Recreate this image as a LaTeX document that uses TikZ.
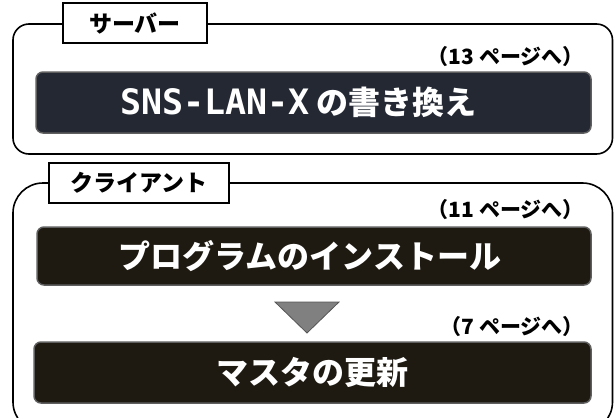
\documentclass[tikz,border=0pt]{standalone}
\usepackage{fontspec}
\setmainfont{Noto Sans CJK JP}
\newfontfamily\monofnt{DejaVu Sans Mono}
\definecolor{navybox}{RGB}{35,40,51}
\definecolor{blackbox}{RGB}{30,26,18}
\definecolor{boxedge}{RGB}{95,95,95}
\definecolor{trifill}{RGB}{128,128,128}
\definecolor{triedge}{RGB}{85,85,85}
\tikzset{
  outerbox/.style={draw=black, line width=1.6pt},
  labelbox/.style={draw=black, line width=1.5pt, fill=white, inner sep=0pt,
    font=\fontsize{23}{26}\selectfont\bfseries},
  darkbox/.style={draw=boxedge, line width=1.5pt, rounded corners=7pt, inner sep=0pt},
  boxtext/.style={text=white, inner sep=0pt, font=\fontsize{32}{36}\selectfont\bfseries},
  pagenote/.style={inner sep=0pt, anchor=east, font=\fontsize{21}{24}\selectfont\bfseries},
}
\begin{document}
\begin{tikzpicture}[x=1pt,y=-1pt]
\useasboundingbox (0,0) rectangle (614,418);
\clip (0,0) rectangle (614,418);
% outer group frames
\draw[outerbox, rounded corners=16pt] (13,24) rectangle (612.5,154);
\draw[outerbox, rounded corners=30pt] (13,183) rectangle (612.5,432);
% group labels
\node[labelbox, minimum width=144pt, minimum height=40pt] (srvlabel) at (135,23) {サーバー};
\node[labelbox, minimum width=180pt, minimum height=40pt] (clilabel) at (139,183) {クライアント};
% task boxes
\node[darkbox, fill=navybox, minimum width=555pt, minimum height=61pt] (srvtask) at (313.5,102.5) {};
\node[boxtext] (srvtext) at ([xshift=-15pt]srvtask.center) {{\monofnt\fontsize{35}{38}\selectfont SNS-LAN-X} の書き換え};
\node[darkbox, fill=blackbox, minimum width=554pt, minimum height=58pt] (progtask) at (314,256) {};
\node[boxtext] (progtext) at ([xshift=-4pt]progtask.center) {プログラムのインストール};
\node[darkbox, fill=blackbox, minimum width=557pt, minimum height=61pt] (mastask) at (312.5,372.5) {};
\node[boxtext] (mastext) at (mastask.center) {マスタの更新};
% page notes
\node[pagenote] (srvnote) at (584,57) {（13 ページへ）};
\node[pagenote] (prognote) at (584,210) {（11 ページへ）};
\node[pagenote] (masnote) at (584,327) {（7 ページへ）};
% arrow triangle between tasks
\coordinate (trileft) at (275,302);
\coordinate (triright) at (339,302);
\coordinate (tritip) at (307,333);
\draw[fill=trifill, draw=triedge, line width=0.8pt] (trileft) -- (triright) -- (tritip) -- cycle;
\end{tikzpicture}
\end{document}
